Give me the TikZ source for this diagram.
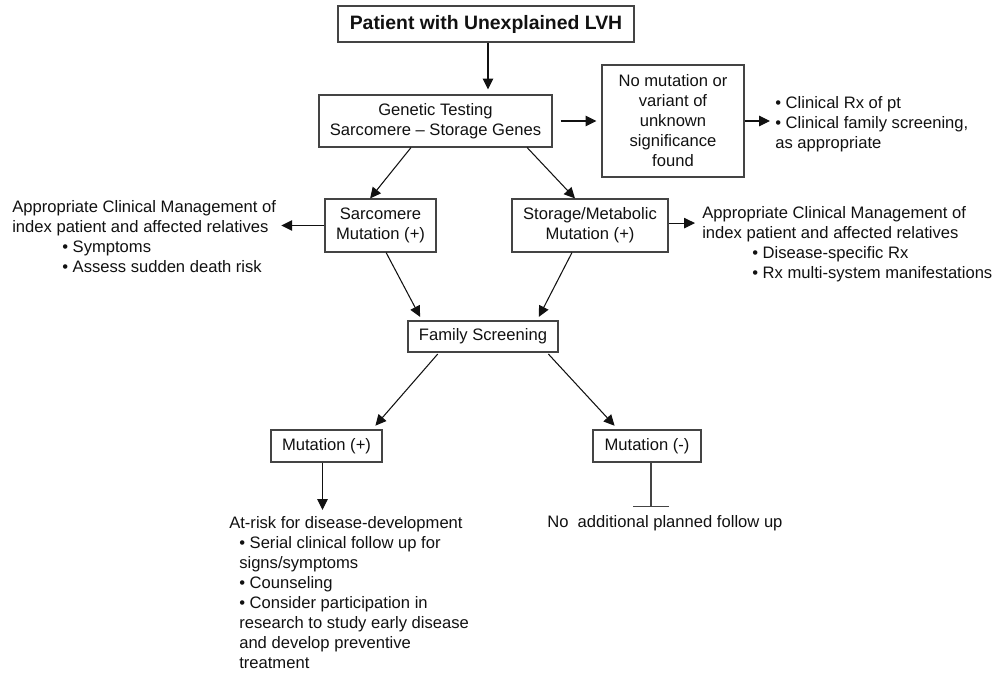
\documentclass[tikz,border=0pt]{standalone}
\usepackage{fontspec}
\setmainfont{Liberation Sans}
\usepackage{xcolor}
\definecolor{BoxGray}{HTML}{444444}
\definecolor{InkBlack}{HTML}{111111}
\usetikzlibrary{arrows.meta,positioning,calc}

\begin{document}
\begin{tikzpicture}[x=0.025cm, y=-0.025cm, every node/.style={font=\fontsize{11.8}{14.2}\selectfont, align=center, text=InkBlack}, block/.style={draw=BoxGray, line width=0.8pt, inner sep=2pt}, note/.style={align=left, anchor=north west, inner sep=0pt}, arr/.style={-{Triangle[length=0.27cm, width=0.26cm]}, line width=0.75pt, InkBlack}]
        \useasboundingbox (0,0) rectangle (999,675);

        \node[block, minimum width=7.4cm, minimum height=0.9cm, font=\fontsize{13.8}{16}\selectfont\bfseries] (lvh) at (486,24) {Patient with Unexplained LVH};
        \node[block, minimum width=5.825cm, minimum height=1.3cm] (gentest) at (435.5,121) {Genetic Testing\\Sarcomere -- Storage Genes};
        \node[block, minimum width=3.55cm, minimum height=2.8cm] (nomut) at (673,121) {No mutation or\\variant of\\unknown\\significance\\found};
        \node[block, minimum width=2.775cm, minimum height=1.325cm] (sarc) at (380.5,225.5) {Sarcomere\\Mutation (+)};
        \node[block, minimum width=3.9cm, minimum height=1.325cm] (storage) at (590,225.5) {Storage/Metabolic\\Mutation (+)};
        \node[block, minimum width=3.75cm, minimum height=0.775cm] (famscreen) at (483,336.5) {Family Screening};
        \node[block, minimum width=2.775cm, minimum height=0.8cm] (mutpos) at (326.5,446) {Mutation (+)};
        \node[block, minimum width=2.7cm, minimum height=0.8cm] (mutneg) at (647,446) {Mutation (-)};

        % side notes
        \node[note] (rxnote) at (775,96) {• Clinical Rx of pt\\• Clinical family screening,\\as appropriate};
        \node[note] (mgmtL) at (12,200) {Appropriate Clinical Management of\\index patient and affected relatives\\\hspace*{1.25cm}• Symptoms\\\hspace*{1.25cm}• Assess sudden death risk};
        \node[note] (mgmtR) at (702,206) {Appropriate Clinical Management of\\index patient and affected relatives\\\hspace*{1.25cm}• Disease-specific Rx\\\hspace*{1.25cm}• Rx multi-system manifestations};
        \node[note] (atrisk) at (229,516) {At-risk for disease-development\\\hspace*{0.25cm}• Serial clinical follow up for\\\hspace*{0.25cm}signs/symptoms\\\hspace*{0.25cm}• Counseling\\\hspace*{0.25cm}• Consider participation in\\\hspace*{0.25cm}research to study early disease\\\hspace*{0.25cm}and develop preventive\\\hspace*{0.25cm}treatment};
        \node[note] (nofollow) at (547,515) {No\ \ additional planned follow up};

        \draw[arr, shorten >=0.125cm] ([xshift=0.05cm]lvh.south) -- ([xshift=0.05cm]lvh.south |- gentest.north);
        \draw[arr, shorten <=0.2cm, shorten >=0.125cm] (gentest.east) -- (nomut.west);
        \draw[arr, shorten >=0.125cm] (nomut.east) -- (nomut.east -| rxnote.west);
        \draw[arr] ([xshift=-0.6125cm]gentest.south) -- ([xshift=-0.26cm]sarc.north);
        \draw[arr] ([xshift=2.29cm]gentest.south) -- ([xshift=-0.375cm]storage.north);
        \draw[arr, shorten >=0.125cm] (sarc.west) -- (sarc.west -| mgmtL.east);
        \draw[arr, shorten >=0.175cm] ([yshift=0.06cm]storage.east) -- ([yshift=0.06cm]storage.east -| mgmtR.west);
        \draw[arr, shorten >=0.1cm] ([xshift=0.14cm]sarc.south) -- ([xshift=-1.525cm]famscreen.north);
        \draw[arr, shorten >=0.1cm] ([xshift=-0.45cm]storage.south) -- ([xshift=1.35cm]famscreen.north);
        \draw[arr, shorten <=0.05cm, shorten >=0.125cm] ([xshift=-1.1cm]famscreen.south) -- ([xshift=1.14cm]mutpos.north);
        \draw[arr, shorten <=0.05cm, shorten >=0.125cm] ([xshift=1.6cm]famscreen.south) -- ([xshift=-0.725cm]mutneg.north);
        \draw[arr, shorten >=0.15cm] ([xshift=-0.1cm]mutpos.south) -- ([xshift=-0.1cm]mutpos.south |- atrisk.north);
        \draw[-{Bar[width=0.9cm]}, line width=0.75pt, BoxGray, shorten >=0.2cm] ([xshift=0.1cm]mutneg.south) -- ([xshift=0.1cm]mutneg.south |- nofollow.north);
    \end{tikzpicture}
\end{document}
